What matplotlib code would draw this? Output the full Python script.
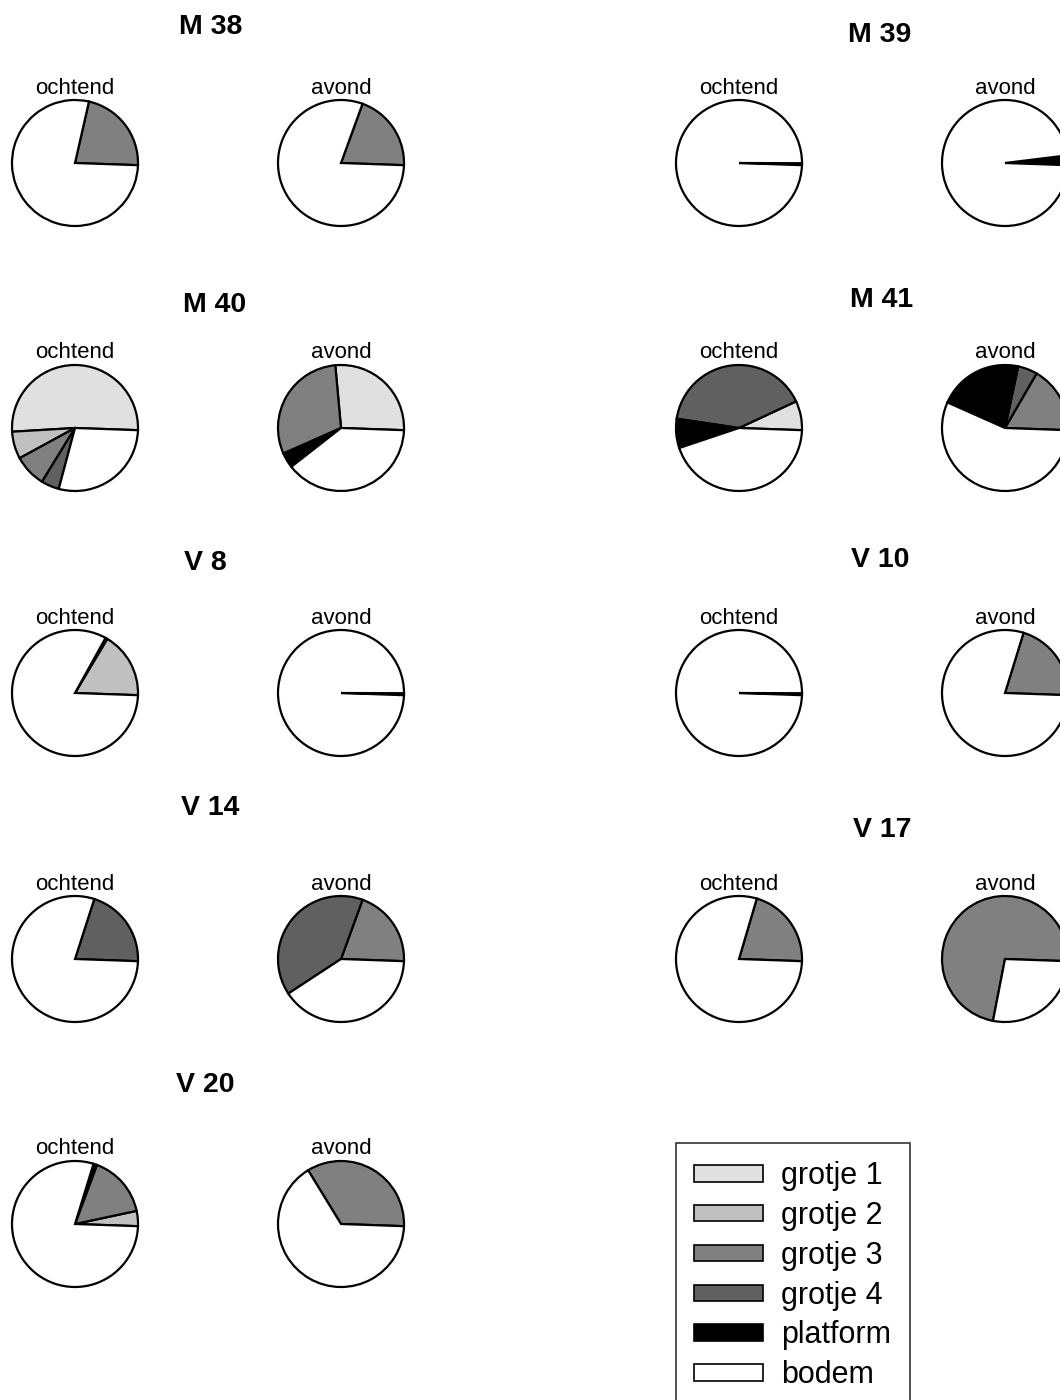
import matplotlib
matplotlib.use("Agg")
import matplotlib.pyplot as plt
from matplotlib.patches import Patch

plt.rcParams['font.family'] = ['Liberation Sans', 'DejaVu Sans']

# categories and colours (pie order, counterclockwise from 3 o'clock)
categories = ["grotje 1", "grotje 2", "grotje 3", "grotje 4", "platform", "bodem"]
colors = ["#e0e0e0", "#c0c0c0", "#808080", "#606060", "#000000", "#ffffff"]

groups = ["M 38", "M 39", "M 40", "M 41", "V 8", "V 10", "V 14", "V 17", "V 20"]

# percentages per group: [grotje1, grotje2, grotje3, grotje4, platform, bodem]
ochtend = [
    [0, 0, 22, 0, 0, 78],
    [0, 0, 0, 0, 0.5, 99.5],
    [51.5, 7, 8.3, 4.6, 0, 28.6],
    [7.5, 0, 0, 40.7, 7.5, 44.3],
    [0, 17, 0, 0, 0.5, 82.5],
    [0, 0, 0, 0, 0.5, 99.5],
    [0, 0, 0, 20.6, 0, 79.4],
    [0, 0, 21, 0, 0, 79],
    [0, 3.9, 16, 0, 0.9, 79.2],
]
avond = [
    [0, 0, 20, 0, 0, 80],
    [0, 0, 0, 0, 2.5, 97.5],
    [27, 0, 30.2, 0, 3.9, 38.9],
    [0, 0, 17.2, 5, 21.7, 56.1],
    [0, 0, 0, 0, 0.5, 99.5],
    [0, 0, 20.8, 0, 0, 79.2],
    [0, 0, 20, 39.8, 0, 40.2],
    [0, 0, 72.5, 0, 0, 27.5],
    [0, 0, 34.3, 0, 0, 65.7],
]

W, H = 1060, 1400
fig = plt.figure(figsize=(W / 100, H / 100), dpi=100)

col_x = [(75, 341), (739, 1005)]
row_y = [163, 428, 693, 959, 1224]
title_pos = [(211, 27), (880, 35), (215, 305), (882, 300), (205, 563),
             (880, 560), (210, 808), (882, 830), (205, 1085)]
R = 63
box = 140


def draw_pie(cx, cy, vals, label):
    ax = fig.add_axes([(cx - box / 2) / W, 1 - (cy + box / 2) / H, box / W, box / H])
    c = [colors[i] for i in range(len(vals)) if vals[i] > 0]
    v = [x for x in vals if x > 0]
    ax.pie(v, colors=c, startangle=-2, counterclock=True,
           wedgeprops=dict(edgecolor="black", linewidth=1.6))
    lim = box / 2 / R
    ax.set_xlim(-lim, lim)
    ax.set_ylim(-lim, lim)
    ax.set_aspect("equal")
    ax.axis("off")
    fig.text(cx / W, 1 - (cy - 75) / H, label, ha="center", va="center", fontsize=16)


for i, g in enumerate(groups):
    col = i % 2
    row = i // 2
    xo, xa = col_x[col]
    cy = row_y[row]
    draw_pie(xo, cy, ochtend[i], "ochtend")
    draw_pie(xa, cy, avond[i], "avond")
    tx, ty = title_pos[i]
    fig.text(tx / W, 1 - ty / H, g, ha="center", va="center",
             fontsize=20.5, fontweight="bold")

handles = [Patch(facecolor=colors[i], edgecolor="black", linewidth=1.2)
           for i in range(len(categories))]
leg = fig.legend(handles, categories, loc="upper left",
                 bbox_to_anchor=(676 / W, 1 - 1143 / H), fontsize=22,
                 frameon=True, fancybox=False, edgecolor="black",
                 handlelength=2.25, handleheight=0.45, handletextpad=0.6,
                 labelspacing=0.32, borderpad=0.6, borderaxespad=0)
leg.get_frame().set_linewidth(1.2)

fig.savefig("out.png", dpi=100)
